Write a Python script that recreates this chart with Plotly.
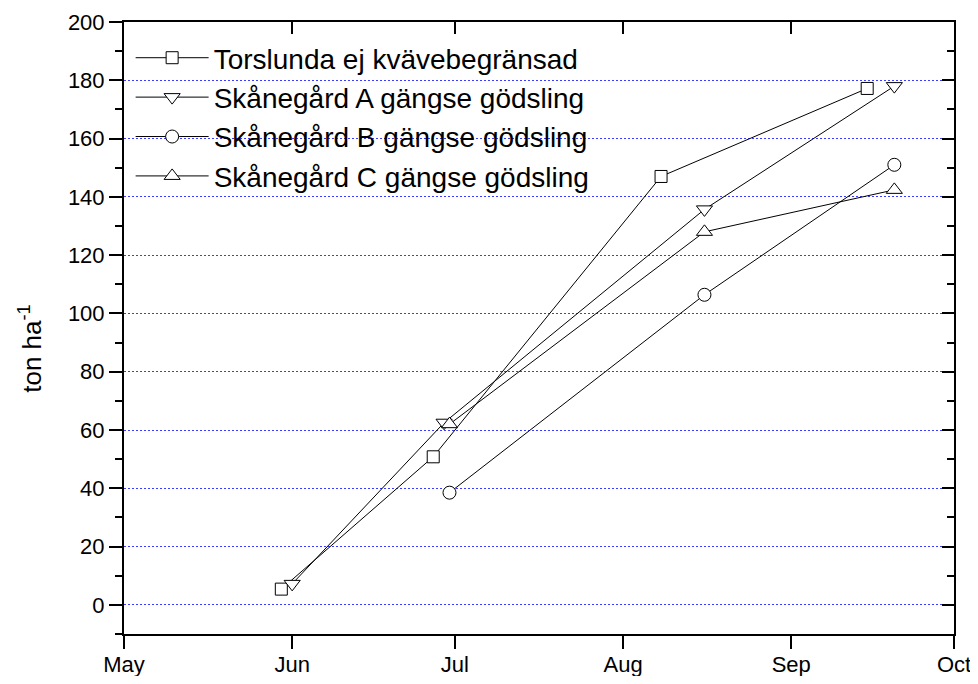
import plotly.graph_objects as go

# sampling dates and biomass (ton/ha)
torslunda_dates = ["2010-05-30", "2010-06-27", "2010-08-08", "2010-09-15"]
torslunda_values = [5.4, 50.8, 147, 177.2]

gard_a_dates = ["2010-06-01", "2010-06-29", "2010-08-16", "2010-09-20"]
gard_a_values = [7.2, 62.5, 135.7, 178]

gard_b_dates = ["2010-06-30", "2010-08-16", "2010-09-20"]
gard_b_values = [38.5, 106.4, 151]

gard_c_dates = ["2010-06-30", "2010-08-16", "2010-09-20"]
gard_c_values = [62, 128, 142.4]

series_names = [
    "Torslunda ej kvävebegränsad",
    "Skånegård A gängse gödsling",
    "Skånegård B gängse gödsling",
    "Skånegård C gängse gödsling",
]

FONT = "Arial, 'Liberation Sans', sans-serif"
X_RANGE = ["2010-05-01", "2010-10-01"]
Y_RANGE = [-10, 200]

# the page body has an 8px margin, so the figure is sized to land the
# plot frame at x 124..954, y 22..634 in the window
fig = go.Figure()
series = [
    (torslunda_dates, torslunda_values, "square", 12, "x", "y"),
    (gard_a_dates, gard_a_values, "triangle-down", 14, "x", "y"),
    (gard_b_dates, gard_b_values, "circle", 13, "x", "y"),
    # last series sits on the twin axes so the top/right frame gets drawn
    (gard_c_dates, gard_c_values, "triangle-up", 14, "x2", "y2"),
]
for idx, (dates, values, symbol, size, xa, ya) in enumerate(series):
    fig.add_trace(go.Scatter(
        x=dates, y=values, name=series_names[idx], mode="lines+markers",
        line={"color": "black", "width": 1},
        marker={"symbol": symbol, "size": size, "color": "white",
                "line": {"width": 1, "color": "black"}},
        legendgroup=f"g{idx}", xaxis=xa, yaxis=ya,
    ))

frame = {"showline": True, "linecolor": "black", "linewidth": 2,
         "zeroline": False, "automargin": False, "tickcolor": "black",
         "tickwidth": 2}

fig.update_layout(
    width=970, height=668,
    margin={"l": 116, "r": 24, "t": 14, "b": 42},
    paper_bgcolor="white", plot_bgcolor="white",
    font={"family": FONT, "size": 22, "color": "black"},
    showlegend=True,
    legend={
        "x": 0.008, "y": 0.982, "xanchor": "left", "yanchor": "top",
        "font": {"size": 28}, "bgcolor": "rgba(0,0,0,0)",
        "itemwidth": 73, "tracegroupgap": 0,
    },
    xaxis={
        **frame,
        "type": "date", "range": X_RANGE, "dtick": "M1", "tick0": "2010-05-01",
        "tickformat": "%b", "showgrid": False,
        "ticks": "outside", "ticklen": 13, "tickfont": {"size": 22},
        "ticklabeloverflow": "allow", "ticklabelstandoff": -3,
    },
    xaxis2={
        **frame,
        "type": "date", "range": X_RANGE, "dtick": "M1", "tick0": "2010-05-01",
        "overlaying": "x", "side": "top", "anchor": "y2",
        "showticklabels": False, "showgrid": False,
        "ticks": "inside", "ticklen": 12,
    },
    yaxis={
        **frame,
        "range": Y_RANGE, "tick0": 0, "dtick": 20,
        "showgrid": True, "gridcolor": "#3b3bff", "griddash": "2px,2px",
        "gridwidth": 1,
        "ticks": "outside", "ticklen": 13, "tickfont": {"size": 22},
        "minor": {"dtick": 10, "tick0": 0, "ticks": "outside", "ticklen": 7,
                  "tickwidth": 2, "tickcolor": "black", "showgrid": False},
    },
    yaxis2={
        **frame,
        "range": Y_RANGE, "tick0": 0, "dtick": 20,
        "overlaying": "y", "side": "right", "anchor": "x2",
        "showticklabels": False, "showgrid": False,
        "ticks": "inside", "ticklen": 12,
        "minor": {"dtick": 10, "tick0": 0, "ticks": "inside", "ticklen": 7,
                  "tickwidth": 2, "tickcolor": "black", "showgrid": False},
    },
)

fig.add_annotation(
    text="ton ha<sup>-1</sup>", xref="paper", yref="paper",
    x=0, y=0.466, xanchor="center", yanchor="middle", xshift=-93,
    textangle=-90, showarrow=False,
    font={"size": 26, "family": FONT},
)

fig.write_html("out.html")
